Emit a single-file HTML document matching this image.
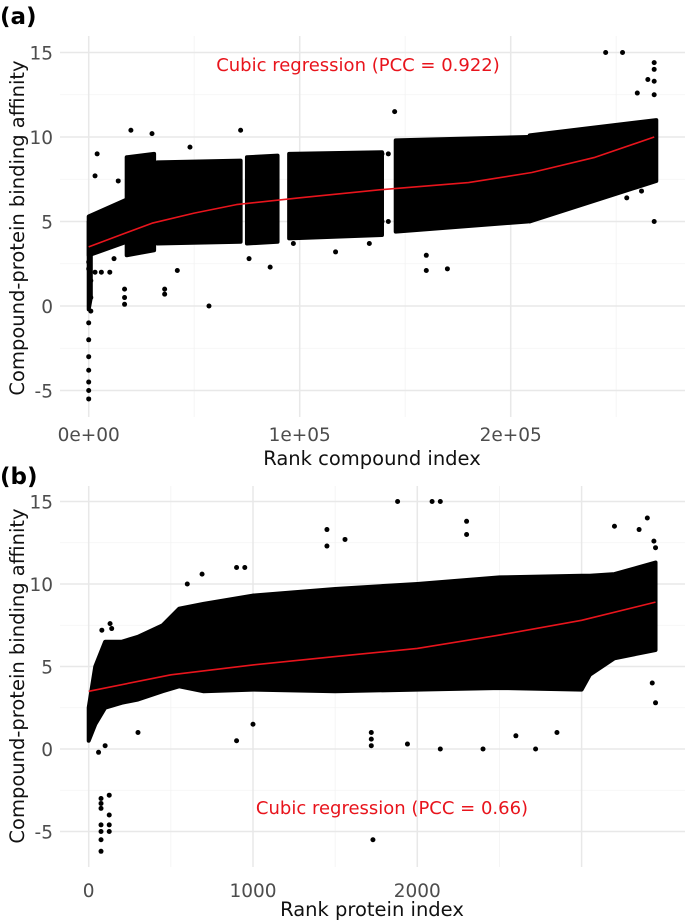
<!DOCTYPE html>
<html><head><meta charset="utf-8"><style>
body{margin:0;background:#fff;}
svg{display:block;font-family:"DejaVu Sans","Liberation Sans",sans-serif;}
</style></head><body>
<svg id="fig" width="685" height="920" viewBox="0 0 685 920">
<text x="0" y="24" font-size="23" font-weight="bold">(a)</text>
<text x="0" y="484" font-size="23" font-weight="bold">(b)</text>
<g id="pa"></g>
<g id="pb"></g>
<text x="372" y="465" font-size="19.5" text-anchor="middle" fill="#111">Rank compound index</text>
<text x="372" y="916" font-size="19.5" text-anchor="middle" fill="#111">Rank protein index</text>
<text transform="translate(24,228) rotate(-90)" font-size="19.5" text-anchor="middle" fill="#111">Compound-protein binding affinity</text>
<text transform="translate(24,676) rotate(-90)" font-size="19.5" text-anchor="middle" fill="#111">Compound-protein binding affinity</text>
<text x="358" y="71" font-size="18" text-anchor="middle" fill="#e8141c">Cubic regression (PCC = 0.922)</text>
<text x="392" y="814" font-size="18" text-anchor="middle" fill="#e8141c">Cubic regression (PCC = 0.66)</text>
</svg>
<script>
// ---------- Panel A data ----------
const aXTicks=[0,100000,200000];
const aXTickLabels=["0e+00","1e+05","2e+05"];
const aXMinor=[50000,150000,250000];
const aYTicks=[-5,0,5,10,15];
const aYMinor=[-2.5,2.5,7.5,12.5];
const aSegX0=[0,0,18000,32500,75000,95000,145500,209000];
const aSegX1=[1000,18000,31000,72000,89500,139000,208000,269000];
const aSegLo0=[-0.2,3.0,3.0,3.7,3.7,4.0,4.4,5.0];
const aSegLo1=[0.5,3.8,3.3,3.8,3.8,4.2,5.0,7.4];
const aSegHi0=[5.0,5.3,8.8,8.5,8.8,9.0,9.8,10.1];
const aSegHi1=[5.2,6.3,9.0,8.6,8.9,9.1,10.0,11.0];
const aOutX=[245000,253000,145000,268000,268000,268000,268000,268000,267000,0,0,0,0,0,0,0,0,0,57000,36000,36000,17000,17000,17000,4000,160000,160000,170000,255000,1000,1000,1000,3000,30000,72000,20000,48000,42000,76000,86000,97000,117000,133000,14000,12000,9000,260000,265000,262000,3000,6000,10000,139000,142000,139000,142000];
const aOutY=[15,15,11.5,5,12.5,13.3,14.0,14.4,8,-5.5,-5,-4.5,-3.8,-3,-2,-1,2.2,2.6,0,1,0.7,0.1,0.5,1,9,2.1,3,2.2,6.4,-0.3,0.5,1.5,7.7,10.2,10.4,10.4,9.4,2.1,2.8,2.3,3.7,3.2,3.7,7.4,2.8,5.5,12.6,13.4,6.8,2,2,2,5,5,9,9];
const aCurveX=[0,15000,30000,50000,70000,100000,140000,180000,210000,240000,268000];
const aCurveY=[3.5,4.2,4.9,5.5,6.0,6.4,6.9,7.3,7.9,8.8,10.0];
// ---------- Panel B data ----------
const bXTicks=[0,1000,2000,3000];
const bXTickLabels=["0","1000","2000",""];
const bXMinor=[500,1500,2500];
const bYTicks=[-5,0,5,10,15];
const bYMinor=[-2.5,2.5,7.5,12.5];
const bEnvX=[0,40,100,200,300,450,550,700,1000,1500,2000,2500,3000,3050,3200,3450];
const bEnvLo=[0.5,1.5,2.5,2.8,3.0,3.5,3.8,3.5,3.6,3.5,3.6,3.7,3.6,4.5,5.5,6.0];
const bEnvHi=[2.5,5.0,6.5,6.5,6.8,7.5,8.5,8.8,9.3,9.7,10.0,10.4,10.5,10.5,10.6,11.3];
const bOutX=[75,75,75,75,75,75,75,125,125,125,125,1730,1880,2090,2140,1450,1450,1560,2300,2300,3200,3350,3400,900,950,600,690,1720,1720,1720,900,2720,2140,2400,1940,3450,3430,3440,3450,80,60,130,300,1000,2600,2850,100,140];
const bOutY=[-3,-3.3,-3.6,-4.6,-5,-5.5,-6.2,-2.8,-4,-4.6,-5,-5.5,15,15,15,13.3,12.3,12.7,13.8,13,13.5,13.3,14,11,11,10,10.6,0.2,0.6,1,0.5,0,0,0,0.3,2.8,4,12.6,12.2,7.2,-0.2,7.6,1,1.5,0.8,1,0.2,7.3];
const bCurveX=[0,500,1000,1500,2000,2500,3000,3450];
const bCurveY=[3.5,4.5,5.1,5.6,6.1,6.9,7.8,8.9];

const NS="http://www.w3.org/2000/svg";
function mk(parent,tag,attrs){const e=document.createElementNS(NS,tag);for(const k in attrs)e.setAttribute(k,attrs[k]);parent.appendChild(e);return e;}

function panel(g,xs,ys,box,xT,xL,xM,yT,yM,tickY){
  yM.forEach(v=>{const l=mk(g,'line',{x1:box[0],x2:box[1],y1:ys(v),y2:ys(v),stroke:'#f3f3f3','stroke-width':0.8});
    
    });
  xM.forEach(v=>{const l=mk(g,'line',{x1:xs(v),x2:xs(v),y1:box[2],y2:box[3],stroke:'#f3f3f3','stroke-width':0.8});
    
    });
  yT.forEach(v=>{const l=mk(g,'line',{x1:box[0],x2:box[1],y1:ys(v),y2:ys(v),stroke:'#e8e8e8','stroke-width':1.5});
    
    
    const t=mk(g,'text',{x:53,y:ys(v)+7,'font-size':18.5,'text-anchor':'end',fill:'#4d4d4d'});t.textContent=v;
    
    });
  xT.forEach((v,i)=>{const l=mk(g,'line',{x1:xs(v),x2:xs(v),y1:box[2],y2:box[3],stroke:'#e8e8e8','stroke-width':1.5});
    
    
    const t=mk(g,'text',{x:xs(v),y:tickY,'font-size':18.5,'text-anchor':'middle',fill:'#4d4d4d'});t.textContent=xL[i];
    
    });
}
function dots(g,xs,ys,X,Y,name){X.forEach((x,i)=>{const c=mk(g,'circle',{cx:xs(x),cy:ys(Y[i]),r:2.5,fill:'#000'});
  
  });}
function curve(g,xs,ys,X,Y,name){let d='';X.forEach((x,i)=>{d+=(i?'L':'M')+xs(x).toFixed(1)+','+ys(Y[i]).toFixed(1);});
  const p=mk(g,'path',{d:d,fill:'none',stroke:'#e8141c','stroke-width':1.6,'stroke-linejoin':'round'});
  
  }

// Panel A
const xa=v=>88.7+v*211/100000, ya=v=>306-16.9*v;
const ga=document.getElementById('pa');
panel(ga,xa,ya,[60,685,36,417],aXTicks,aXTickLabels,aXMinor,aYTicks,aYMinor,441);
aSegX0.forEach((x0,i)=>{const x1=aSegX1[i];
  const pts=[[xa(x0),ya(aSegLo0[i])],[xa(x1),ya(aSegLo1[i])],[xa(x1),ya(aSegHi1[i])],[xa(x0),ya(aSegHi0[i])]].map(p=>p.join(',')).join(' ');
  const p=mk(ga,'polygon',{points:pts,fill:'#000',stroke:'#000','stroke-width':4,'stroke-linejoin':'round'});
  
  });
dots(ga,xa,ya,aOutX,aOutY,'outlier-point');
curve(ga,xa,ya,aCurveX,aCurveY,'cubic-regression-line-a');

// Panel B
const xb=v=>88.7+v*0.1643, yb=v=>749-16.5*v;
const gb=document.getElementById('pb');
panel(gb,xb,yb,[60,685,486,867],bXTicks,bXTickLabels,bXMinor,bYTicks,bYMinor,897);
{let pts=[];bEnvX.forEach((x,i)=>pts.push(xb(x)+','+yb(bEnvLo[i])));
 for(let i=bEnvX.length-1;i>=0;i--)pts.push(xb(bEnvX[i])+','+yb(bEnvHi[i]));
 const p=mk(gb,'polygon',{points:pts.join(' '),fill:'#000',stroke:'#000','stroke-width':4,'stroke-linejoin':'round'});
 
 }
dots(gb,xb,yb,bOutX,bOutY,'outlier-point');
curve(gb,xb,yb,bCurveX,bCurveY,'cubic-regression-line-b');
</script>
</body></html>
